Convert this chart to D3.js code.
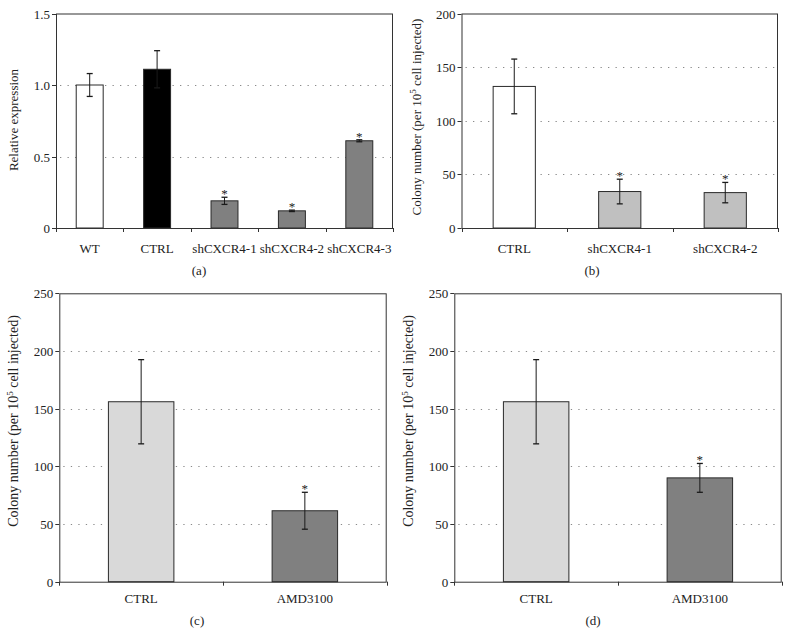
<!DOCTYPE html>
<html>
<head>
<meta charset="utf-8">
<script src="https://cdn.jsdelivr.net/npm/d3@7"></script>
<style>
  body { margin: 0; background: #fff; }
  text { font-family: "Liberation Serif", "Times New Roman", serif; fill: #222; }
</style>
</head>
<body>
<svg id="chart" width="790" height="634"></svg>
<script>
// ---- Data ----
const catsA = ["WT", "CTRL", "shCXCR4-1", "shCXCR4-2", "shCXCR4-3"];
const valsA = [1.0, 1.11, 0.19, 0.12, 0.61];
const errsA = [0.08, 0.13, 0.025, 0.005, 0.007];
const starsA = [false, false, true, true, true];
const ticksA = [0, 0.5, 1.0, 1.5];
const tickLabelsA = ["0", "0.5", "1.0", "1.5"];

const catsB = ["CTRL", "shCXCR4-1", "shCXCR4-2"];
const valsB = [132, 34, 33];
const errsB = [25.5, 11.5, 9.5];
const starsB = [false, true, true];
const ticksB = [0, 50, 100, 150, 200];

const catsC = ["CTRL", "AMD3100"];
const valsC = [156, 61.5];
const errsC = [36.5, 16];
const starsC = [false, true];

const catsD = ["CTRL", "AMD3100"];
const valsD = [156, 90];
const errsD = [36.5, 12.5];
const starsD = [false, true];
const ticksCD = [0, 50, 100, 150, 200, 250];

// ---- Styles (kept separately) ----
const fillsA = ["#ffffff", "#000000", "#808080", "#808080", "#808080"];
const fillsB = ["#ffffff", "#c0c0c0", "#c0c0c0"];
const fillsCD = ["#d9d9d9", "#808080"];

const svg = d3.select("#chart");
svg.append("rect").attr("width", 790).attr("height", 634).attr("fill", "#fff");

function panel(o) {
  const g = svg.append("g");
  const x = d3.scaleBand().domain(o.cats).range([o.x0, o.x1]).paddingInner(0.6).paddingOuter(0.3);
  const y = d3.scaleLinear().domain([0, o.ymax]).range([o.y0, o.y1]);
  const step = x.step();

  // gridlines
  g.selectAll(".grid").data(o.ticks.filter(t => t > 0 && t < o.ymax)).enter()
    .append("line")
    .attr("x1", o.x0 + 4).attr("x2", o.x1 - 2)
    .attr("y1", d => Math.round(y(d)) + 0.5).attr("y2", d => Math.round(y(d)) + 0.5)
    .attr("stroke", "#8a8a8a").attr("stroke-width", 1)
    .attr("stroke-dasharray", "1.3,6.2");

  // bars
  g.selectAll(".bar").data(o.vals).enter().append("rect")
    .attr("x", (d, i) => x(o.cats[i]))
    .attr("width", x.bandwidth())
    .attr("y", d => y(d))
    .attr("height", d => y(0) - y(d))
    .attr("fill", (d, i) => o.fills[i])
    .attr("stroke", "#2a2a2a").attr("stroke-width", 1);

  // error bars
  o.vals.forEach((v, i) => {
    const cx = x(o.cats[i]) + x.bandwidth() / 2;
    const e = o.errs[i];
    const yt = y(v + e), yb = y(Math.max(0, v - e));
    const col = "#1a1a1a";
    g.append("line").attr("x1", cx).attr("x2", cx).attr("y1", yt).attr("y2", yb)
      .attr("stroke", col).attr("stroke-width", 1);
    [yt, yb].forEach(yy => {
      g.append("line").attr("x1", cx - 3).attr("x2", cx + 3).attr("y1", yy).attr("y2", yy)
        .attr("stroke", col).attr("stroke-width", 1.3);
    });
    if (o.stars[i]) {
      g.append("text").attr("x", cx).attr("y", yt + 1)
        .attr("text-anchor", "middle").attr("font-size", 13).text("*");
    }
  });

  // frame
  g.append("rect").attr("x", o.x0 + 0.5).attr("y", o.y1 + 0.5)
    .attr("width", o.x1 - o.x0 - 1).attr("height", o.y0 - o.y1)
    .attr("fill", "none").attr("stroke", "#333").attr("stroke-width", 1);

  // y axis ticks and labels
  o.ticks.forEach((t, i) => {
    const yy = Math.round(y(t)) + 0.5;
    g.append("line").attr("x1", o.x0 - 4).attr("x2", o.x0).attr("y1", yy).attr("y2", yy)
      .attr("stroke", "#333");
    g.append("text").attr("x", o.x0 - 6).attr("y", yy).attr("dy", "0.35em")
      .attr("text-anchor", "end").attr("font-size", 13)
      .text(o.tickLabels ? o.tickLabels[i] : d3.format("d")(t));
  });

  // x axis category boundary ticks
  d3.range(o.cats.length + 1).forEach(i => {
    const xx = Math.round(o.x0 + i * step) + 0.5;
    g.append("line").attr("x1", xx).attr("x2", xx).attr("y1", o.y0).attr("y2", o.y0 + 4)
      .attr("stroke", "#333");
  });
  // category labels
  o.cats.forEach(c => {
    g.append("text").attr("x", x(c) + x.bandwidth() / 2).attr("y", o.y0 + o.labOff)
      .attr("dy", "0.35em").attr("text-anchor", "middle").attr("font-size", 13).text(c);
  });

  // y label
  const yl = g.append("text")
    .attr("transform", `translate(${o.ylx},${o.yly}) rotate(-90)`)
    .attr("text-anchor", "middle").attr("font-size", o.ylSize || 13);
  if (o.ylabel === "colony") {
    yl.append("tspan").text("Colony number (per 10");
    yl.append("tspan").attr("dy", -5).attr("font-size", 9).text("5");
    yl.append("tspan").attr("dy", 5).text(" cell injected)");
  } else {
    yl.text(o.ylabel);
  }

  // panel letter
  g.append("text").attr("x", o.px).attr("y", o.py).attr("dy", "0.35em")
    .attr("text-anchor", "middle").attr("font-size", 13).text(o.letter);
}

panel({ cats: catsA, vals: valsA, errs: errsA, stars: starsA, fills: fillsA,
  x0: 56, x1: 393, y0: 228, y1: 13.5, ymax: 1.5, ticks: ticksA, tickLabels: tickLabelsA,
  labOff: 20, ylabel: "Relative expression", ylx: 18, yly: 120, letter: "(a)", px: 199, py: 270 });

panel({ cats: catsB, vals: valsB, errs: errsB, stars: starsB, fills: fillsB,
  x0: 461.5, x1: 778, y0: 228, y1: 13.5, ymax: 200, ticks: ticksB,
  labOff: 20, ylabel: "colony", ylx: 421, yly: 117, letter: "(b)", px: 592, py: 270 });

panel({ cats: catsC, vals: valsC, errs: errsC, stars: starsC, fills: fillsCD,
  x0: 59.3, x1: 386.7, y0: 581.7, y1: 293.3, ymax: 250, ticks: ticksCD,
  labOff: 16.5, ylabel: "colony", ylx: 18, yly: 421, ylSize: 14, letter: "(c)", px: 197, py: 620 });

panel({ cats: catsD, vals: valsD, errs: errsD, stars: starsD, fills: fillsCD,
  x0: 454.3, x1: 781.7, y0: 581.7, y1: 293.3, ymax: 250, ticks: ticksCD,
  labOff: 16.5, ylabel: "colony", ylx: 413, yly: 421, ylSize: 14, letter: "(d)", px: 593, py: 620 });
</script>
</body>
</html>
